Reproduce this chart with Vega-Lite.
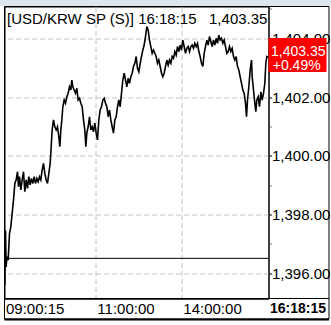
{
  "$schema": "https://vega.github.io/schema/vega-lite/v6.json",
  "width": 264,
  "height": 292,
  "autosize": {"type": "none"},
  "padding": {"left": 4.5, "top": 6.5, "right": 62.5, "bottom": 26.5},
  "background": "white",
  "config": {
    "view": {"stroke": "black", "strokeWidth": 1, "fill": "white"},
    "font": "Liberation Sans"
  },
  "resolve": {"axis": {"x": "independent", "y": "independent"}},
  "layer": [
    {
      "data": {"values": [
        {"t":1,"p":1395.60},{"t":3,"p":1397.47},{"t":5,"p":1396.22},{"t":7,"p":1396.57},{"t":11,"p":1396.45},
        {"t":15,"p":1397.36},{"t":19,"p":1397.59},{"t":23,"p":1398.04},{"t":27,"p":1398.49},{"t":31,"p":1399.06},
        {"t":35,"p":1399.18},{"t":39,"p":1399.46},{"t":42,"p":1398.95},{"t":45,"p":1399.29},{"t":49,"p":1398.84},
        {"t":53,"p":1399.18},{"t":57,"p":1399.46},{"t":61,"p":1398.78},{"t":65,"p":1399.18},{"t":69,"p":1398.89},
        {"t":73,"p":1399.29},{"t":77,"p":1399.01},{"t":81,"p":1399.23},{"t":85,"p":1399.06},{"t":89,"p":1399.29},
        {"t":93,"p":1399.06},{"t":97,"p":1399.23},{"t":101,"p":1399.12},{"t":105,"p":1399.29},{"t":109,"p":1399.18},
        {"t":113,"p":1399.52},{"t":117,"p":1399.74},{"t":121,"p":1399.40},{"t":125,"p":1399.18},{"t":129,"p":1399.06},
        {"t":133,"p":1399.40},{"t":137,"p":1399.74},{"t":140,"p":1400.31},{"t":143,"p":1400.88},{"t":147,"p":1401.22},
        {"t":151,"p":1400.99},{"t":155,"p":1400.88},{"t":159,"p":1400.99},{"t":163,"p":1400.65},{"t":166,"p":1400.31},
        {"t":169,"p":1400.88},{"t":172,"p":1401.22},{"t":175,"p":1401.67},{"t":179,"p":1401.90},{"t":183,"p":1401.79},
        {"t":187,"p":1402.01},{"t":191,"p":1402.13},{"t":195,"p":1402.35},{"t":199,"p":1402.24},{"t":202,"p":1402.58},
        {"t":205,"p":1402.35},{"t":209,"p":1402.24},{"t":213,"p":1402.13},{"t":217,"p":1402.30},{"t":221,"p":1401.90},
        {"t":225,"p":1401.96},{"t":229,"p":1401.79},{"t":233,"p":1401.67},{"t":237,"p":1401.22},{"t":241,"p":1400.88},
        {"t":244,"p":1400.31},{"t":247,"p":1400.77},{"t":251,"p":1400.99},{"t":255,"p":1401.33},{"t":259,"p":1400.88},
        {"t":263,"p":1400.99},{"t":267,"p":1400.82},{"t":271,"p":1401.11},{"t":275,"p":1400.77},{"t":279,"p":1400.54},
        {"t":283,"p":1401.22},{"t":287,"p":1401.56},{"t":291,"p":1401.67},{"t":295,"p":1401.90},{"t":299,"p":1401.96},
        {"t":303,"p":1401.79},{"t":307,"p":1401.67},{"t":311,"p":1401.33},{"t":315,"p":1401.56},{"t":319,"p":1401.22},
        {"t":323,"p":1400.99},{"t":327,"p":1400.77},{"t":331,"p":1401.22},{"t":335,"p":1401.33},{"t":339,"p":1401.67},
        {"t":343,"p":1401.90},{"t":347,"p":1401.67},{"t":351,"p":1402.13},{"t":355,"p":1402.58},{"t":359,"p":1402.81},
        {"t":363,"p":1402.58},{"t":367,"p":1402.35},{"t":371,"p":1402.64},{"t":375,"p":1402.47},{"t":379,"p":1402.69},
        {"t":383,"p":1402.81},{"t":387,"p":1403.04},{"t":391,"p":1403.15},{"t":395,"p":1403.38},{"t":399,"p":1402.98},
        {"t":403,"p":1402.86},{"t":407,"p":1403.15},{"t":411,"p":1403.38},{"t":415,"p":1403.60},{"t":419,"p":1403.77},
        {"t":423,"p":1404.06},{"t":427,"p":1404.40},{"t":431,"p":1404.28},{"t":435,"p":1403.94},{"t":439,"p":1403.72},
        {"t":443,"p":1403.49},{"t":447,"p":1403.60},{"t":451,"p":1403.49},{"t":455,"p":1403.38},{"t":459,"p":1403.15},
        {"t":463,"p":1403.26},{"t":467,"p":1403.04},{"t":471,"p":1402.81},{"t":475,"p":1402.69},{"t":479,"p":1402.81},
        {"t":483,"p":1403.04},{"t":487,"p":1403.26},{"t":491,"p":1403.09},{"t":495,"p":1403.26},{"t":499,"p":1403.15},
        {"t":503,"p":1403.38},{"t":507,"p":1403.32},{"t":511,"p":1403.55},{"t":515,"p":1403.43},{"t":519,"p":1403.72},
        {"t":523,"p":1403.55},{"t":527,"p":1403.77},{"t":531,"p":1403.60},{"t":535,"p":1403.94},{"t":539,"p":1403.72},
        {"t":543,"p":1403.49},{"t":547,"p":1403.66},{"t":551,"p":1403.72},{"t":555,"p":1403.55},{"t":559,"p":1403.72},
        {"t":563,"p":1403.77},{"t":567,"p":1403.66},{"t":571,"p":1403.83},{"t":575,"p":1403.72},{"t":579,"p":1403.83},
        {"t":583,"p":1403.55},{"t":587,"p":1403.38},{"t":591,"p":1403.15},{"t":595,"p":1403.04},{"t":599,"p":1403.49},
        {"t":603,"p":1403.72},{"t":607,"p":1403.94},{"t":611,"p":1403.77},{"t":615,"p":1404.06},{"t":619,"p":1403.89},
        {"t":623,"p":1403.72},{"t":627,"p":1403.94},{"t":631,"p":1403.77},{"t":635,"p":1404.00},{"t":639,"p":1403.83},
        {"t":643,"p":1404.11},{"t":647,"p":1403.94},{"t":651,"p":1404.00},{"t":655,"p":1403.83},{"t":659,"p":1403.94},
        {"t":663,"p":1403.72},{"t":667,"p":1403.49},{"t":671,"p":1403.55},{"t":675,"p":1403.72},{"t":679,"p":1403.55},
        {"t":683,"p":1403.66},{"t":687,"p":1403.38},{"t":691,"p":1403.26},{"t":695,"p":1403.38},{"t":699,"p":1403.04},
        {"t":703,"p":1402.92},{"t":707,"p":1402.69},{"t":711,"p":1402.47},{"t":715,"p":1402.24},{"t":719,"p":1402.13},
        {"t":723,"p":1401.79},{"t":726,"p":1401.33},{"t":729,"p":1401.90},{"t":733,"p":1402.35},{"t":737,"p":1402.92},
        {"t":741,"p":1403.26},{"t":743,"p":1402.69},{"t":747,"p":1402.24},{"t":751,"p":1401.79},{"t":754,"p":1401.50},
        {"t":757,"p":1401.90},{"t":761,"p":1402.01},{"t":765,"p":1401.67},{"t":769,"p":1402.18},{"t":773,"p":1401.90},
        {"t":777,"p":1402.13},{"t":781,"p":1402.47},{"t":784,"p":1403.15},{"t":787,"p":1403.38},{"t":791,"p":1403.35}
      ]},
      "mark": {"type": "line", "color": "black", "strokeWidth": 1.6},
      "encoding": {
        "x": {
          "field": "t", "type": "quantitative",
          "scale": {"domain": [0, 792], "nice": false, "zero": false},
          "axis": {
            "title": null,
            "orient": "bottom",
            "values": [0, 274, 532, 792],
            "labelExpr": "datum.value == 0 ? '09:00:15' : datum.value == 274 ? '11:00:00' : datum.value == 532 ? '14:00:00' : '16:18:15'",
            "labelAlign": "left",
            "labelFlush": false,
            "labelOverlap": false,
            "labelOffset": 1,
            "labelPadding": 3,
            "labelFont": "Liberation Sans",
            "labelFontSize": {"condition": {"test": "datum.value == 792", "value": 14}, "value": 15},
            "labelFontWeight": {"condition": {"test": "datum.value == 792", "value": "bold"}, "value": "normal"},
            "labelColor": "black",
            "ticks": false,
            "domain": true,
            "domainColor": "black",
            "grid": true,
            "gridColor": "#c4c4c4",
            "gridDash": [5, 3],
            "gridOpacity": {"condition": {"test": "datum.value == 274 || datum.value == 532", "value": 1}, "value": 0}
          }
        },
        "y": {
          "field": "p", "type": "quantitative",
          "scale": {"domain": [1395.143, 1405.083], "nice": false, "zero": false},
          "axis": {
            "title": null,
            "orient": "right",
            "values": [1396, 1397, 1398, 1399, 1400, 1401, 1402, 1403, 1404, 1405],
            "labelExpr": "datum.value % 2 == 0 ? format(datum.value, ',.2f') : ''",
            "labelFont": "Liberation Sans",
            "labelFontSize": 15,
            "labelColor": "black",
            "labelPadding": 0,
            "labelOverlap": false,
            "labelFlush": false,
            "labelBaseline": "middle",
            "tickSize": 3,
            "tickColor": {"condition": {"test": "datum.value % 2 == 0", "value": "black"}, "value": "#777777"},
            "domain": true,
            "domainColor": "black",
            "grid": true,
            "gridColor": "#c4c4c4",
            "gridDash": [5, 3],
            "gridOpacity": {"condition": {"test": "datum.value % 2 == 0 && datum.value < 1405", "value": 1}, "value": 0}
          }
        }
      }
    },
    {
      "data": {"values": [{}]},
      "mark": {"type": "rect", "fill": "#dfe5ec", "clip": false},
      "encoding": {
        "x": {"datum": -13.5, "axis": null},
        "x2": {"datum": 979.5},
        "y": {"datum": 1405.31, "axis": null},
        "y2": {"datum": 1405.1}
      }
    },
    {
      "data": {"values": [{}]},
      "mark": {"type": "rect", "filled": false, "stroke": "black", "strokeWidth": 1, "clip": false},
      "encoding": {
        "x": {"datum": 0, "axis": null},
        "x2": {"datum": 973.5},
        "y": {"datum": 1405.083, "axis": null},
        "y2": {"datum": 1394.445}
      }
    },
    {
      "data": {"values": [{}]},
      "mark": {"type": "rule", "color": "black", "strokeWidth": 2, "clip": false},
      "encoding": {
        "x": {"datum": 0, "axis": null},
        "x2": {"datum": 973.5},
        "y": {"datum": 1394.43, "axis": null}
      }
    },
    {
      "data": {"values": [{}]},
      "mark": {"type": "rule", "color": "black", "strokeWidth": 1, "clip": false},
      "encoding": {
        "x": {"datum": 0, "axis": null},
        "x2": {"datum": 973.5},
        "y": {"datum": 1395.143, "axis": null}
      }
    },
    {
      "data": {"values": [{}]},
      "mark": {"type": "rule", "color": "black", "strokeWidth": 1},
      "encoding": {
        "y": {"datum": 1396.51, "axis": null}
      }
    },
    {
      "data": {"values": [{}]},
      "mark": {
        "type": "point",
        "shape": "M0,-0.647L1.933,-0.647L1.933,0.487L0,0.487Z",
        "size": 3600,
        "filled": true,
        "color": "#ff0000",
        "opacity": 1,
        "clip": false
      },
      "encoding": {
        "x": {"datum": 792, "axis": null},
        "y": {"datum": 1403.35, "axis": null}
      }
    },
    {
      "data": {"values": [{"line1": "1,403.35"}]},
      "mark": {"type": "text", "color": "white", "font": "Liberation Sans", "fontSize": 14, "align": "left", "baseline": "middle", "dx": 2.5, "dy": -5.8, "clip": false},
      "encoding": {
        "x": {"datum": 792, "axis": null},
        "y": {"datum": 1403.35, "axis": null},
        "text": {"field": "line1"}
      }
    },
    {
      "data": {"values": [{"line2": "+0.49%"}]},
      "mark": {"type": "text", "color": "white", "font": "Liberation Sans", "fontSize": 14, "align": "center", "baseline": "middle", "dx": 28.2, "dy": 8.6, "clip": false},
      "encoding": {
        "x": {"datum": 792, "axis": null},
        "y": {"datum": 1403.35, "axis": null},
        "text": {"field": "line2"}
      }
    },
    {
      "data": {"values": [{"title": "[USD/KRW SP (S)] 16:18:15\u00a0\u00a0\u00a01,403.35"}]},
      "mark": {"type": "text", "color": "black", "font": "Liberation Sans", "fontSize": 15, "align": "left", "baseline": "alphabetic", "dx": 2.5, "dy": 17.5, "clip": false},
      "encoding": {
        "x": {"datum": 0, "axis": null},
        "y": {"datum": 1405.083, "axis": null},
        "text": {"field": "title"}
      }
    }
  ]
}
